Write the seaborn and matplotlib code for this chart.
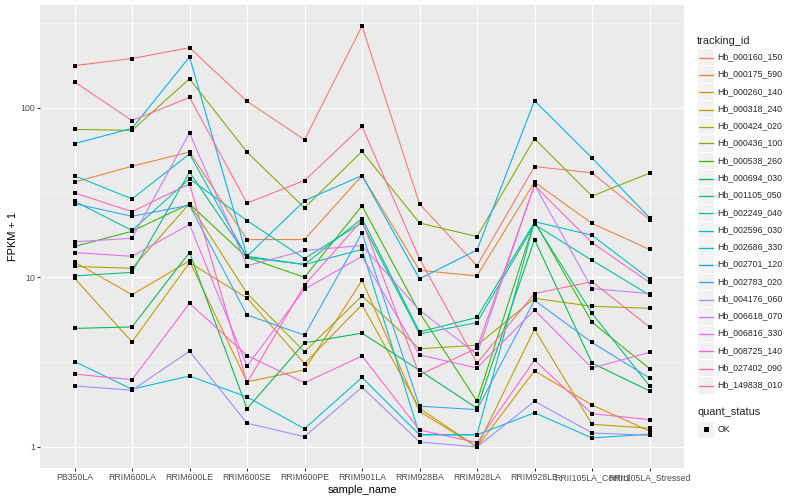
import numpy as np
import pandas as pd
import matplotlib
matplotlib.use("Agg")
import matplotlib.pyplot as plt
import seaborn as sns
from matplotlib.lines import Line2D
from matplotlib.patches import Rectangle
from matplotlib.ticker import FixedLocator, NullFormatter

# --- data (FPKM + 1) ---
samples = ["PB350LA", "RRIM600LA", "RRIM600LE", "RRIM600SE", "RRIM600PE",
           "RRIM901LA", "RRIM928BA", "RRIM928LA", "RRIM928LE",
           "RRII105LA_Control", "RRII105LA_Stressed"]

genes = ["Hb_000160_150", "Hb_000175_590", "Hb_000260_140", "Hb_000318_240",
         "Hb_000424_020", "Hb_000436_100", "Hb_000538_260", "Hb_000694_030",
         "Hb_001105_050", "Hb_002249_040", "Hb_002596_030", "Hb_002686_330",
         "Hb_002701_120", "Hb_002783_020", "Hb_004176_060", "Hb_006618_070",
         "Hb_006816_330", "Hb_008725_140", "Hb_027402_090", "Hb_149838_010"]

hb_000160_150 = [177, 195, 226, 109, 64.8, 303, 27.1, 11.7, 45.0, 41.3, 21.9]
hb_000175_590 = [36.4, 45.2, 54.8, 16.7, 16.7, 39.8, 11.0, 10.2, 36.4, 20.8, 14.6]
hb_000260_140 = [12.3, 7.9, 12.5, 2.42, 2.85, 9.6, 1.62, 1.0, 2.81, 1.77, 1.24]
hb_000318_240 = [9.9, 4.16, 12.2, 7.55, 3.1, 6.9, 1.69, 1.0, 4.94, 1.36, 1.29]
hb_000424_020 = [11.6, 11.3, 27.2, 8.05, 3.64, 7.76, 3.79, 3.98, 7.52, 6.75, 6.57]
hb_000436_100 = [74.5, 73.5, 148, 54.8, 25.7, 55.3, 20.9, 17.4, 65.7, 30.1, 41.1]
hb_000538_260 = [15.2, 18.7, 27.1, 13.1, 10.0, 26.4, 6.2, 1.86, 21.4, 5.44, 2.9]
hb_000694_030 = [5.0, 5.1, 14.0, 1.68, 4.11, 4.69, 2.83, 1.69, 16.7, 3.12, 2.14]
hb_001105_050 = [10.2, 10.7, 41.7, 13.3, 11.9, 22.2, 4.77, 5.8, 21.1, 6.14, 2.29]
hb_002249_040 = [28.1, 18.9, 38.1, 21.6, 12.9, 21.0, 4.64, 5.41, 20.5, 12.6, 7.87]
hb_002596_030 = [39.7, 29.0, 53.4, 13.1, 11.9, 14.6, 1.18, 1.18, 21.3, 17.7, 9.77]
hb_002686_330 = [3.19, 2.19, 2.62, 1.97, 1.28, 2.57, 1.18, 1.18, 1.59, 1.13, 1.19]
hb_002701_120 = [61.4, 75.5, 199, 13.3, 28.3, 39.8, 9.8, 14.5, 110, 50.6, 22.5]
hb_002783_020 = [27.2, 22.9, 26.6, 6.0, 4.56, 18.3, 1.74, 1.66, 7.32, 4.13, 2.55]
hb_004176_060 = [2.29, 2.16, 3.67, 1.38, 1.15, 2.25, 1.07, 1.0, 1.86, 1.21, 1.17]
hb_006618_070 = [16.2, 17.0, 71.0, 11.7, 14.4, 15.4, 6.4, 3.52, 35.2, 8.58, 8.02]
hb_006816_330 = [14.0, 13.3, 20.5, 3.0, 8.5, 13.3, 3.49, 2.92, 6.42, 2.92, 3.61]
hb_008725_140 = [2.69, 2.49, 7.03, 3.46, 2.39, 3.44, 1.26, 1.06, 3.25, 1.57, 1.45]
hb_027402_090 = [31.5, 24.4, 35.6, 2.39, 9.0, 21.7, 2.66, 3.82, 34.8, 16.0, 9.34]
hb_149838_010 = [142, 84, 115, 27.4, 37.2, 77.6, 12.9, 3.12, 8.02, 9.43, 5.1]

gene_values = [hb_000160_150, hb_000175_590, hb_000260_140, hb_000318_240,
               hb_000424_020, hb_000436_100, hb_000538_260, hb_000694_030,
               hb_001105_050, hb_002249_040, hb_002596_030, hb_002686_330,
               hb_002701_120, hb_002783_020, hb_004176_060, hb_006618_070,
               hb_006816_330, hb_008725_140, hb_027402_090, hb_149838_010]

# ggplot2 default hue palette for 20 levels
colors = ["#F8766D", "#EA8331", "#D89000", "#C09B00", "#A3A500", "#7CAE00",
          "#39B600", "#00BB4E", "#00BF7D", "#00C1A3", "#00BFC4", "#00BAE0",
          "#00B0F6", "#35A2FF", "#9590FF", "#C77CFF", "#E76BF3", "#FA62DB",
          "#FF62BC", "#FF6C91"]

rows = []
for gene, vals in zip(genes, gene_values):
    for s, v in zip(samples, vals):
        rows.append((gene, s, v, "OK"))
df = pd.DataFrame(rows, columns=["tracking_id", "sample_name", "fpkm", "quant_status"])

# --- style ---
sns.set_theme(style="darkgrid", rc={"axes.facecolor": "#EBEBEB", "grid.color": "white"})
plt.rcParams["font.family"] = ["Liberation Sans", "DejaVu Sans"]

W, H = 800, 500
fig = plt.figure(figsize=(W / 72, H / 72), dpi=72)
fig.patch.set_facecolor("white")
ax = fig.add_axes([40 / W, 1 - 468 / H, (684 - 40) / W, (468 - 5) / H])

sns.lineplot(data=df, x="sample_name", y="fpkm", hue="tracking_id",
             hue_order=genes, palette=colors, estimator=None, sort=False,
             linewidth=1.07, legend=False, ax=ax)
sns.scatterplot(data=df, x="sample_name", y="fpkm", color="black", marker="s",
                s=10, linewidth=0, legend=False, ax=ax, zorder=3)

ax.set_yscale("log")
lo, hi = np.log10(df["fpkm"].min()), np.log10(df["fpkm"].max())
pad = 0.05 * (hi - lo)
ax.set_ylim(10 ** (lo - pad), 10 ** (hi + pad))
ax.set_xlim(-0.6, len(samples) - 0.4)

ax.yaxis.set_major_locator(FixedLocator([1, 10, 100]))
ax.set_yticklabels(["1", "10", "100"])
ax.yaxis.set_minor_locator(FixedLocator(10 ** np.array([0.5, 1.5, 2.5])))
ax.yaxis.set_minor_formatter(NullFormatter())

ax.grid(which="major", color="white", linewidth=1.07)
ax.grid(which="minor", axis="y", color="white", linewidth=0.55)
ax.set_axisbelow(True)
for sp in ax.spines.values():
    sp.set_visible(False)

ax.tick_params(which="major", length=2.75, width=1.07, color="#333333",
               labelsize=8.8, labelcolor="#4D4D4D", pad=2.2,
               bottom=True, left=True)
ax.tick_params(which="minor", length=0)
ax.set_xlabel("sample_name", fontsize=11, labelpad=2.75, color="black")
ax.set_ylabel("FPKM + 1", fontsize=11, labelpad=2.75, color="black")

# --- legends (ggplot style, drawn in figure pixels) ---
def fx(x):
    return x / W

def fy(y):
    return 1 - y / H

key_x0, key_w, key_h = 697, 17.28, 17.28
fig.text(fx(key_x0), fy(40.7), "tracking_id", fontsize=11, va="center", ha="left")
for i, (gene, col) in enumerate(zip(genes, colors)):
    cy = 56.7 + i * key_h
    ly = round(cy) + 0.5  # keep the key line on a pixel row so it stays crisp
    fig.add_artist(Rectangle((fx(key_x0), fy(cy + key_h / 2)), key_w / W, key_h / H,
                             transform=fig.transFigure, facecolor="#F2F2F2",
                             edgecolor="white", linewidth=1, zorder=1))
    fig.add_artist(Line2D([fx(key_x0 + 1.7), fx(key_x0 + key_w - 1.7)], [fy(ly), fy(ly)],
                          transform=fig.transFigure, color=col, linewidth=1.3,
                          zorder=5))
    fig.text(fx(717.5), fy(cy), gene, fontsize=8.8, va="center", ha="left")

fig.text(fx(key_x0), fy(411.7), "quant_status", fontsize=11, va="center", ha="left")
cy = 429.3
fig.add_artist(Rectangle((fx(key_x0), fy(cy + key_h / 2)), key_w / W, key_h / H,
                         transform=fig.transFigure, facecolor="#F2F2F2",
                         edgecolor="white", linewidth=1, zorder=1))
fig.add_artist(Line2D([fx(key_x0 + key_w / 2)], [fy(cy)], transform=fig.transFigure,
                      marker="s", markersize=3.2, color="black", linestyle="none",
                      zorder=5))
fig.text(fx(717.5), fy(cy), "OK", fontsize=8.8, va="center", ha="left")

fig.savefig("out.png", dpi=72)
